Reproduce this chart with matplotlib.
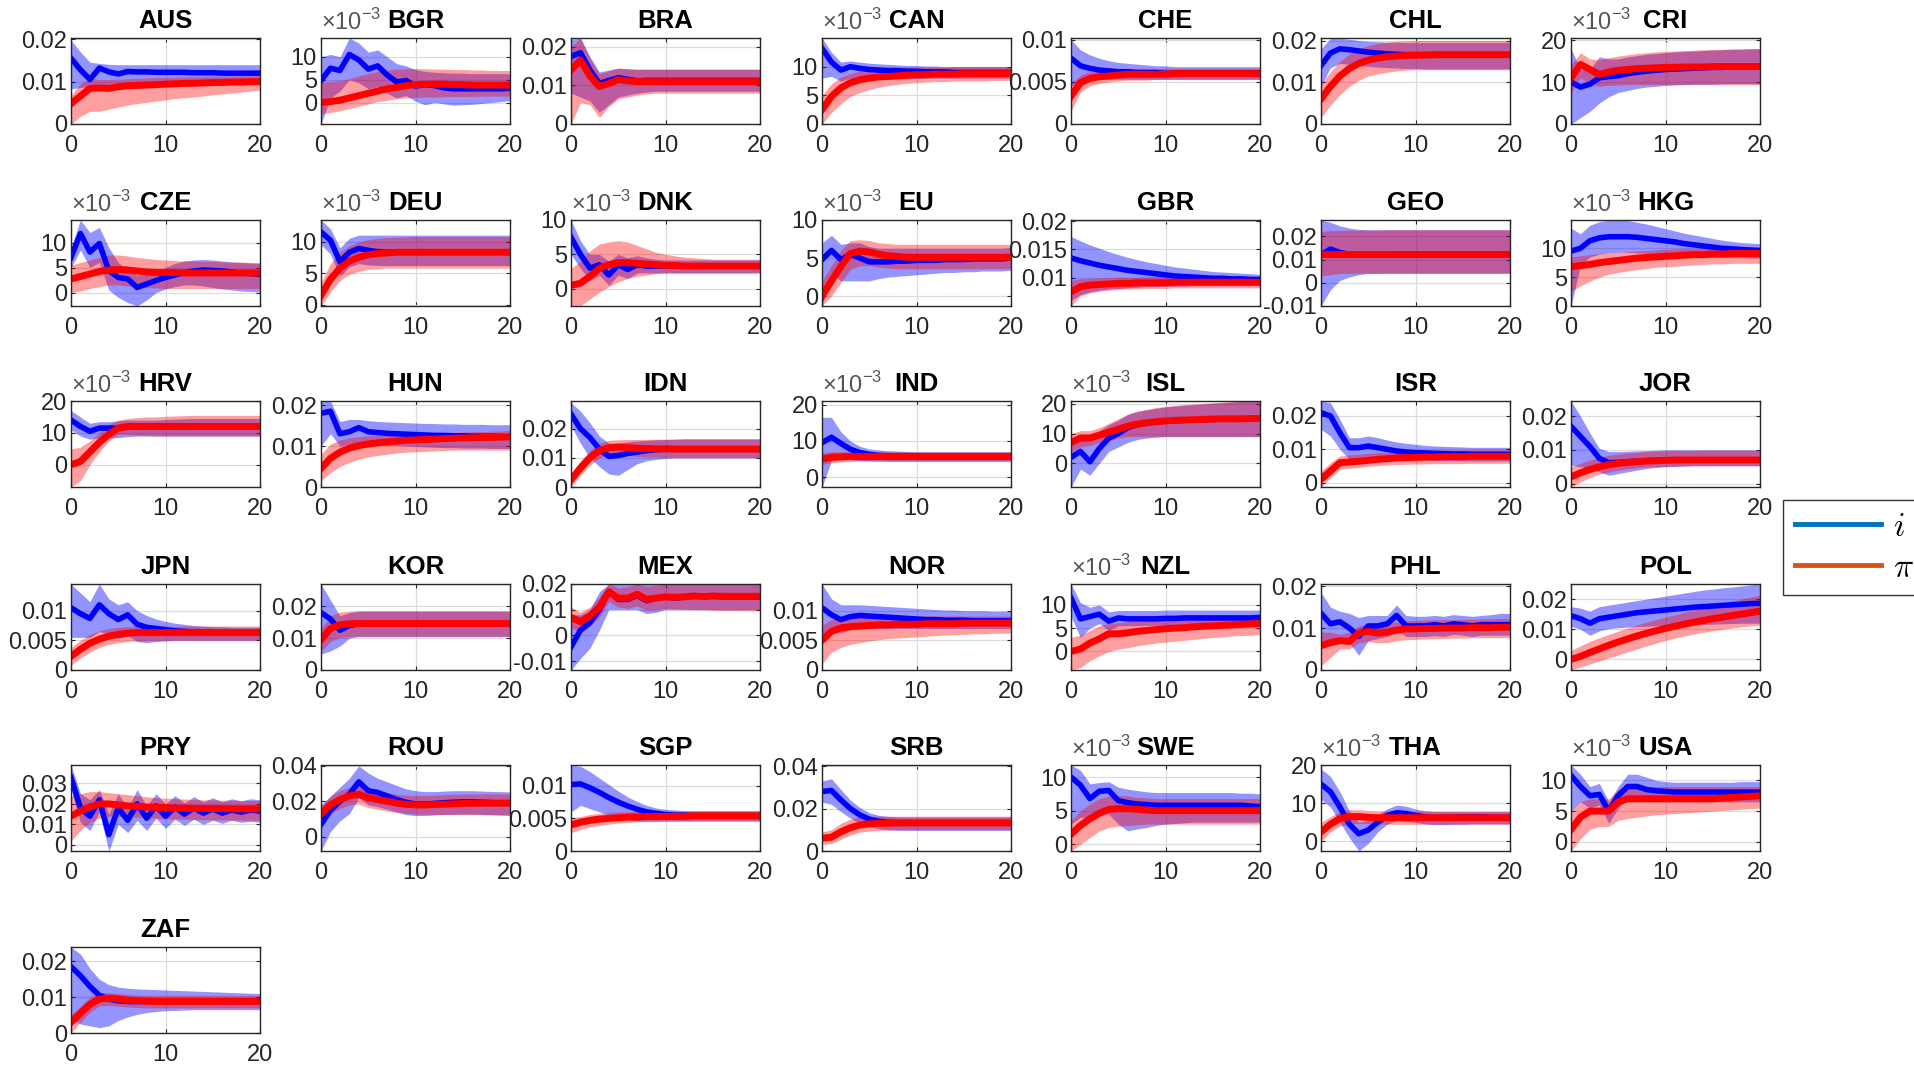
import matplotlib
matplotlib.use("Agg")
import matplotlib.pyplot as plt
from matplotlib.lines import Line2D
import numpy as np

plt.rcParams['font.family'] = ['Liberation Sans', 'DejaVu Sans']

HORIZON = list(range(21))

# Impulse responses, in units of 1e-3: i = policy rate, pi = inflation,
# with lower/upper credible bands.
AUS_i = [15.5, 12.8, 10.5, 13.2, 12.3, 11.8, 12.4, 12.3, 12.3, 12.2, 12.2, 12.2, 12.2, 12.1, 12.1, 12.1, 12.0, 12.0, 12.0, 12.0, 12.0]
AUS_i_lo = [8.3, 8.6, 8.8, 9.0, 9.0, 9.1, 9.2, 9.2, 9.3, 9.3, 9.3, 9.4, 9.4, 9.4, 9.4, 9.5, 9.5, 9.5, 9.5, 9.5, 9.5]
AUS_i_hi = [19.8, 17.0, 14.6, 14.3, 14.1, 14.0, 14.0, 14.0, 14.0, 14.0, 14.0, 14.0, 14.0, 14.0, 14.0, 14.0, 14.0, 14.0, 14.0, 14.0, 14.0]
AUS_pi = [4.8, 6.6, 8.4, 8.5, 8.4, 8.8, 9.0, 9.1, 9.2, 9.3, 9.4, 9.5, 9.6, 9.6, 9.7, 9.8, 9.8, 9.9, 9.9, 10.0, 10.0]
AUS_pi_lo = [0.0, 1.8, 3.0, 3.0, 3.5, 4.0, 4.5, 4.8, 5.1, 5.4, 5.7, 6.0, 6.2, 6.4, 6.6, 6.9, 7.1, 7.3, 7.5, 7.8, 8.0]
AUS_pi_hi = [6.8, 9.5, 10.8, 10.5, 10.5, 10.6, 10.7, 10.8, 10.9, 11.0, 11.0, 11.1, 11.1, 11.2, 11.2, 11.3, 11.3, 11.3, 11.4, 11.4, 11.4]

BGR_i = [4.8, 7.5, 7.0, 10.5, 9.3, 7.3, 8.0, 6.0, 4.5, 4.8, 3.6, 3.9, 3.7, 3.2, 3.0, 3.0, 3.0, 3.0, 3.0, 3.0, 3.1]
BGR_i_lo = [-4.7, 1.0, 2.5, 5.0, 4.3, 3.0, 3.5, 2.0, 1.0, 1.5, 0.3, -0.5, 0.0, -0.3, -0.6, -0.5, -0.4, -0.2, 0.0, 0.2, 0.4]
BGR_i_hi = [10.0, 10.5, 10.0, 14.1, 13.0, 11.0, 11.5, 10.0, 8.5, 8.0, 7.2, 6.8, 6.6, 6.5, 6.4, 6.4, 6.3, 6.3, 6.3, 6.3, 6.3]
BGR_pi = [0.0, 0.2, 0.5, 1.0, 1.5, 2.0, 2.5, 3.0, 3.3, 3.7, 3.9, 4.0, 4.0, 4.0, 3.9, 3.9, 3.8, 3.8, 3.8, 3.8, 3.8]
BGR_pi_lo = [-2.5, -2.2, -1.8, -1.3, -0.8, -0.3, 0.2, 0.5, 0.8, 1.0, 1.1, 1.2, 1.2, 1.3, 1.3, 1.3, 1.3, 1.4, 1.4, 1.4, 1.4]
BGR_pi_hi = [4.5, 4.6, 4.8, 5.2, 5.8, 6.3, 6.8, 7.1, 7.3, 7.4, 7.4, 7.4, 7.3, 7.3, 7.2, 7.2, 7.1, 7.1, 7.0, 7.0, 7.0]

BRA_i = [17.5, 18.5, 14.0, 10.5, 11.3, 12.0, 11.6, 11.2, 11.3, 11.3, 11.3, 11.3, 11.3, 11.3, 11.3, 11.3, 11.3, 11.3, 11.3, 11.3, 11.3]
BRA_i_lo = [8.0, 7.0, 6.0, 3.0, 5.0, 7.0, 7.5, 8.0, 8.3, 8.5, 8.5, 8.5, 8.5, 8.5, 8.5, 8.5, 8.5, 8.5, 8.5, 8.5, 8.5]
BRA_i_hi = [22.0, 22.3, 17.5, 13.5, 14.0, 14.5, 14.3, 14.2, 14.2, 14.2, 14.2, 14.2, 14.2, 14.2, 14.2, 14.2, 14.2, 14.2, 14.2, 14.2, 14.2]
BRA_pi = [14.0, 16.5, 12.5, 9.7, 10.5, 11.5, 11.2, 11.0, 11.0, 11.0, 11.0, 11.0, 11.0, 11.0, 11.0, 11.0, 11.0, 11.0, 11.0, 11.0, 11.0]
BRA_pi_lo = [0.0, 5.5, 5.0, 1.7, 4.5, 6.5, 7.0, 7.5, 7.8, 8.0, 8.0, 8.0, 8.0, 8.0, 8.0, 8.0, 8.0, 8.0, 8.0, 8.0, 8.0]
BRA_pi_hi = [20.0, 22.3, 17.0, 13.0, 13.8, 14.5, 14.3, 14.2, 14.2, 14.2, 14.2, 14.2, 14.2, 14.2, 14.2, 14.2, 14.2, 14.2, 14.2, 14.2, 14.2]

CAN_i = [13.2, 10.8, 9.4, 10.0, 9.7, 9.5, 9.4, 9.3, 9.3, 9.2, 9.2, 9.1, 9.1, 9.1, 9.0, 9.0, 9.0, 9.0, 9.0, 9.0, 9.0]
CAN_i_lo = [8.0, 8.3, 7.5, 8.0, 7.8, 7.8, 7.8, 7.8, 7.9, 7.9, 7.9, 8.0, 8.0, 8.0, 8.0, 8.0, 8.0, 8.0, 8.0, 8.0, 8.0]
CAN_i_hi = [15.0, 12.5, 10.8, 11.0, 10.8, 10.6, 10.5, 10.4, 10.3, 10.2, 10.2, 10.1, 10.1, 10.0, 10.0, 10.0, 10.0, 10.0, 10.0, 10.0, 10.0]
CAN_pi = [2.5, 4.8, 6.3, 7.2, 7.7, 8.0, 8.2, 8.3, 8.4, 8.5, 8.6, 8.6, 8.7, 8.7, 8.7, 8.8, 8.8, 8.8, 8.8, 8.8, 8.8]
CAN_pi_lo = [0.0, 2.0, 3.5, 4.8, 5.5, 6.0, 6.4, 6.7, 6.9, 7.1, 7.2, 7.3, 7.4, 7.4, 7.5, 7.5, 7.5, 7.5, 7.6, 7.6, 7.6]
CAN_pi_hi = [5.0, 7.0, 8.2, 8.8, 9.2, 9.4, 9.5, 9.6, 9.7, 9.8, 9.8, 9.9, 9.9, 9.9, 10.0, 10.0, 10.0, 10.0, 10.0, 10.0, 10.0]

CHE_i = [7.8, 6.9, 6.6, 6.4, 6.3, 6.2, 6.2, 6.1, 6.1, 6.1, 6.0, 6.0, 6.0, 6.0, 6.0, 6.0, 6.0, 6.0, 6.0, 6.0, 6.0]
CHE_i_lo = [4.5, 5.0, 5.2, 5.3, 5.3, 5.3, 5.3, 5.3, 5.3, 5.3, 5.3, 5.3, 5.3, 5.3, 5.3, 5.3, 5.3, 5.3, 5.3, 5.3, 5.3]
CHE_i_hi = [10.0, 8.8, 8.2, 7.8, 7.5, 7.3, 7.2, 7.1, 7.0, 6.9, 6.9, 6.8, 6.8, 6.8, 6.8, 6.8, 6.8, 6.8, 6.8, 6.8, 6.8]
CHE_pi = [3.3, 4.9, 5.4, 5.6, 5.7, 5.8, 5.9, 5.9, 5.9, 5.9, 5.9, 6.0, 6.0, 6.0, 6.0, 6.0, 6.0, 6.0, 6.0, 6.0, 6.0]
CHE_pi_lo = [1.5, 3.8, 4.5, 4.8, 5.0, 5.1, 5.2, 5.2, 5.2, 5.3, 5.3, 5.3, 5.3, 5.3, 5.3, 5.3, 5.3, 5.3, 5.3, 5.3, 5.3]
CHE_pi_hi = [4.8, 5.8, 6.2, 6.4, 6.5, 6.5, 6.6, 6.6, 6.6, 6.6, 6.6, 6.6, 6.6, 6.6, 6.6, 6.6, 6.6, 6.6, 6.6, 6.6, 6.6]

CHL_i = [14.0, 17.0, 18.0, 17.8, 17.5, 17.2, 17.0, 16.8, 16.7, 16.6, 16.6, 16.6, 16.6, 16.6, 16.6, 16.6, 16.6, 16.6, 16.6, 16.6, 16.6]
CHL_i_lo = [9.0, 13.5, 14.5, 14.3, 14.0, 13.8, 13.6, 13.5, 13.4, 13.3, 13.3, 13.2, 13.2, 13.2, 13.2, 13.2, 13.2, 13.2, 13.2, 13.2, 13.2]
CHL_i_hi = [18.0, 20.5, 20.5, 20.3, 20.0, 19.8, 19.7, 19.6, 19.6, 19.5, 19.5, 19.5, 19.5, 19.5, 19.5, 19.5, 19.5, 19.5, 19.5, 19.5, 19.5]
CHL_pi = [6.0, 9.0, 11.5, 13.3, 14.5, 15.3, 15.8, 16.1, 16.3, 16.4, 16.5, 16.5, 16.6, 16.6, 16.6, 16.6, 16.6, 16.6, 16.6, 16.6, 16.6]
CHL_pi_lo = [1.5, 4.5, 7.0, 9.0, 10.5, 11.5, 12.0, 12.4, 12.7, 12.9, 13.0, 13.0, 13.0, 13.0, 13.0, 13.0, 13.0, 13.0, 13.0, 13.0, 13.0]
CHL_pi_hi = [9.5, 12.5, 15.0, 16.8, 18.0, 18.8, 19.3, 19.6, 19.8, 19.9, 20.0, 20.0, 20.0, 20.0, 20.0, 20.0, 20.0, 20.0, 20.0, 20.0, 20.0]

CRI_i = [10.0, 8.8, 9.5, 11.0, 11.3, 11.5, 12.0, 12.3, 12.6, 12.8, 13.0, 13.1, 13.2, 13.3, 13.4, 13.5, 13.5, 13.6, 13.6, 13.7, 13.7]
CRI_i_lo = [0.0, 1.5, 3.0, 5.0, 6.5, 7.5, 8.0, 8.5, 8.8, 9.0, 9.2, 9.3, 9.4, 9.5, 9.5, 9.5, 9.6, 9.6, 9.6, 9.6, 9.6]
CRI_i_hi = [18.0, 13.0, 13.0, 16.0, 15.5, 15.5, 16.0, 16.3, 16.6, 16.8, 17.0, 17.2, 17.3, 17.4, 17.5, 17.6, 17.7, 17.8, 17.8, 17.9, 17.9]
CRI_pi = [11.0, 14.2, 13.0, 11.8, 12.4, 12.8, 13.0, 13.2, 13.3, 13.4, 13.5, 13.5, 13.6, 13.6, 13.6, 13.7, 13.7, 13.7, 13.7, 13.7, 13.7]
CRI_pi_lo = [7.5, 11.0, 9.5, 9.0, 9.2, 9.3, 9.4, 9.4, 9.4, 9.4, 9.4, 9.4, 9.4, 9.4, 9.4, 9.4, 9.4, 9.4, 9.4, 9.4, 9.4]
CRI_pi_hi = [14.0, 17.0, 15.5, 15.3, 15.8, 16.2, 16.5, 16.8, 17.0, 17.2, 17.3, 17.4, 17.5, 17.6, 17.7, 17.8, 17.8, 17.9, 17.9, 18.0, 18.0]

CZE_i = [7.0, 11.8, 8.1, 9.8, 4.4, 3.0, 2.7, 1.0, 1.7, 2.4, 3.0, 3.5, 4.0, 4.3, 4.5, 4.4, 4.3, 4.1, 3.9, 3.8, 3.6]
CZE_i_lo = [5.0, 8.5, 5.0, 6.0, 0.5, -1.0, -2.0, -2.7, -1.5, 0.0, 0.7, 1.2, 1.5, 1.5, 1.3, 1.0, 0.7, 0.5, 0.3, 0.2, 0.1]
CZE_i_hi = [9.0, 14.5, 12.0, 13.0, 9.0, 6.0, 4.5, 3.5, 3.8, 4.3, 5.0, 5.8, 6.3, 6.5, 6.6, 6.5, 6.3, 6.1, 6.0, 5.9, 5.8]
CZE_pi = [2.7, 3.2, 3.7, 4.2, 4.5, 4.6, 4.5, 4.3, 4.1, 4.0, 4.0, 4.0, 3.9, 3.9, 3.9, 3.9, 3.9, 3.9, 3.9, 3.9, 3.9]
CZE_pi_lo = [0.0, 0.3, 0.8, 1.2, 1.5, 1.5, 1.3, 1.1, 1.0, 0.9, 0.8, 0.8, 0.8, 0.8, 0.8, 0.8, 0.8, 0.8, 0.8, 0.8, 0.8]
CZE_pi_hi = [5.5, 6.0, 6.5, 7.0, 7.5, 7.5, 7.3, 7.0, 6.8, 6.6, 6.5, 6.4, 6.3, 6.3, 6.2, 6.2, 6.1, 6.1, 6.1, 6.0, 6.0]

DEU_i = [11.5, 10.2, 6.8, 8.3, 8.9, 8.6, 8.4, 8.3, 8.3, 8.3, 8.3, 8.3, 8.3, 8.3, 8.3, 8.3, 8.3, 8.3, 8.3, 8.3, 8.3]
DEU_i_lo = [9.5, 8.0, 4.5, 6.0, 6.5, 6.3, 6.2, 6.2, 6.2, 6.2, 6.2, 6.2, 6.2, 6.2, 6.2, 6.2, 6.2, 6.2, 6.2, 6.2, 6.2]
DEU_i_hi = [13.4, 12.0, 9.0, 10.5, 11.0, 11.0, 11.0, 11.0, 11.0, 11.0, 11.0, 11.0, 11.0, 11.0, 11.0, 11.0, 11.0, 11.0, 11.0, 11.0, 11.0]
DEU_pi = [1.5, 4.0, 5.8, 6.9, 7.5, 7.9, 8.1, 8.2, 8.3, 8.3, 8.3, 8.3, 8.3, 8.3, 8.3, 8.3, 8.3, 8.3, 8.3, 8.3, 8.3]
DEU_pi_lo = [-0.2, 2.0, 3.8, 4.8, 5.3, 5.6, 5.7, 5.8, 5.8, 5.8, 5.8, 5.8, 5.8, 5.8, 5.8, 5.8, 5.8, 5.8, 5.8, 5.8, 5.8]
DEU_pi_hi = [3.5, 6.5, 8.3, 9.3, 9.9, 10.3, 10.5, 10.6, 10.7, 10.7, 10.8, 10.8, 10.8, 10.8, 10.8, 10.8, 10.8, 10.8, 10.8, 10.8, 10.8]

DNK_i = [7.5, 5.0, 3.0, 3.5, 2.0, 3.5, 2.8, 3.5, 3.3, 3.3, 3.3, 3.3, 3.3, 3.3, 3.3, 3.3, 3.3, 3.3, 3.3, 3.3, 3.3]
DNK_i_lo = [5.0, 3.0, 1.2, 2.0, 0.5, 2.0, 1.5, 2.3, 2.3, 2.3, 2.3, 2.3, 2.3, 2.3, 2.3, 2.3, 2.3, 2.3, 2.3, 2.3, 2.3]
DNK_i_hi = [10.0, 7.0, 5.0, 5.0, 4.0, 5.0, 4.5, 4.8, 4.5, 4.3, 4.2, 4.2, 4.2, 4.2, 4.2, 4.2, 4.2, 4.2, 4.2, 4.2, 4.2]
DNK_pi = [0.5, 0.8, 1.8, 3.0, 3.5, 3.8, 3.8, 3.7, 3.6, 3.5, 3.4, 3.4, 3.3, 3.3, 3.3, 3.3, 3.3, 3.3, 3.3, 3.3, 3.3]
DNK_pi_lo = [-2.5, -2.5, -1.5, -0.5, 0.3, 1.0, 1.5, 1.8, 2.0, 2.2, 2.3, 2.3, 2.3, 2.3, 2.3, 2.3, 2.3, 2.3, 2.3, 2.3, 2.3]
DNK_pi_hi = [3.0, 4.0, 5.5, 6.5, 6.8, 7.0, 6.8, 6.3, 5.8, 5.3, 5.0, 4.8, 4.6, 4.5, 4.4, 4.3, 4.3, 4.3, 4.3, 4.3, 4.3]

EU_i = [4.8, 6.0, 4.8, 5.5, 5.0, 4.5, 4.5, 4.5, 4.6, 4.6, 4.7, 4.7, 4.7, 4.8, 4.8, 4.8, 4.9, 4.9, 4.9, 4.9, 5.0]
EU_i_lo = [-1.3, 3.0, 2.0, 2.0, 2.0, 2.0, 2.3, 2.5, 2.6, 2.7, 2.8, 2.9, 3.0, 3.1, 3.1, 3.2, 3.2, 3.3, 3.3, 3.3, 3.4]
EU_i_hi = [7.0, 8.0, 6.8, 7.0, 7.0, 6.5, 6.3, 6.3, 6.3, 6.3, 6.3, 6.3, 6.3, 6.3, 6.3, 6.3, 6.3, 6.3, 6.3, 6.3, 6.4]
EU_pi = [0.0, 2.0, 3.9, 5.6, 5.9, 5.8, 5.5, 5.3, 5.2, 5.1, 5.1, 5.1, 5.1, 5.1, 5.1, 5.1, 5.1, 5.1, 5.1, 5.1, 5.1]
EU_pi_lo = [-1.3, 0.0, 1.8, 3.5, 4.0, 4.0, 3.8, 3.7, 3.6, 3.6, 3.6, 3.6, 3.6, 3.6, 3.6, 3.6, 3.6, 3.6, 3.6, 3.6, 3.6]
EU_pi_hi = [2.0, 4.0, 6.0, 7.3, 7.4, 7.3, 7.0, 6.9, 6.8, 6.8, 6.8, 6.8, 6.8, 6.8, 6.8, 6.8, 6.8, 6.8, 6.8, 6.8, 6.8]

GBR_i = [13.5, 13.0, 12.6, 12.2, 11.9, 11.6, 11.3, 11.1, 10.9, 10.7, 10.5, 10.3, 10.2, 10.1, 10.0, 9.9, 9.9, 9.8, 9.8, 9.7, 9.7]
GBR_i_lo = [6.0, 7.0, 7.5, 7.8, 8.0, 8.1, 8.2, 8.3, 8.4, 8.4, 8.5, 8.5, 8.5, 8.6, 8.6, 8.6, 8.6, 8.6, 8.6, 8.6, 8.6]
GBR_i_hi = [17.3, 16.5, 15.8, 15.2, 14.6, 14.1, 13.6, 13.2, 12.8, 12.5, 12.2, 11.9, 11.7, 11.5, 11.3, 11.1, 11.0, 10.9, 10.8, 10.7, 10.6]
GBR_pi = [7.5, 8.4, 8.7, 8.8, 8.9, 9.0, 9.0, 9.1, 9.1, 9.1, 9.1, 9.2, 9.2, 9.2, 9.2, 9.2, 9.2, 9.2, 9.2, 9.2, 9.2]
GBR_pi_lo = [5.0, 6.8, 7.3, 7.6, 7.8, 7.9, 8.0, 8.0, 8.1, 8.1, 8.1, 8.2, 8.2, 8.2, 8.2, 8.2, 8.2, 8.2, 8.2, 8.2, 8.2]
GBR_pi_hi = [9.5, 9.8, 9.9, 10.0, 10.0, 10.1, 10.1, 10.1, 10.2, 10.2, 10.2, 10.2, 10.2, 10.2, 10.2, 10.2, 10.2, 10.2, 10.2, 10.2, 10.2]

GEO_i = [12.0, 14.5, 13.0, 12.3, 12.0, 12.0, 12.1, 12.1, 12.2, 12.2, 12.2, 12.2, 12.2, 12.2, 12.2, 12.2, 12.2, 12.2, 12.2, 12.2, 12.2]
GEO_i_lo = [-10.0, -3.0, 1.0, 2.5, 3.5, 4.0, 4.0, 4.0, 4.0, 4.0, 4.0, 4.0, 4.0, 4.0, 4.0, 4.0, 4.0, 4.0, 4.0, 4.0, 4.0]
GEO_i_hi = [27.0, 26.0, 24.5, 23.5, 23.0, 22.8, 22.8, 22.8, 22.8, 22.8, 22.8, 22.8, 22.8, 22.8, 22.8, 22.8, 22.8, 22.8, 22.8, 22.8, 22.8]
GEO_pi = [12.5, 12.5, 12.5, 12.5, 12.5, 12.5, 12.5, 12.5, 12.5, 12.5, 12.5, 12.5, 12.5, 12.5, 12.5, 12.5, 12.5, 12.5, 12.5, 12.5, 12.5]
GEO_pi_lo = [3.0, 3.5, 4.0, 4.0, 4.1, 4.1, 4.1, 4.2, 4.2, 4.2, 4.2, 4.2, 4.2, 4.2, 4.2, 4.2, 4.2, 4.2, 4.2, 4.2, 4.2]
GEO_pi_hi = [22.0, 22.5, 22.5, 22.6, 22.6, 22.7, 22.7, 22.8, 22.8, 22.8, 22.8, 22.8, 22.8, 22.8, 22.8, 22.8, 22.8, 22.8, 22.8, 22.8, 22.8]

HKG_i = [9.5, 10.0, 11.3, 11.8, 12.0, 12.0, 12.0, 11.9, 11.7, 11.5, 11.3, 11.1, 10.8, 10.6, 10.4, 10.2, 10.0, 9.9, 9.8, 9.7, 9.6]
HKG_i_lo = [0.0, 7.0, 8.5, 9.0, 9.2, 9.3, 9.3, 9.2, 9.1, 9.0, 8.9, 8.8, 8.7, 8.6, 8.5, 8.5, 8.4, 8.4, 8.4, 8.3, 8.3]
HKG_i_hi = [13.5, 12.5, 14.0, 14.6, 14.9, 14.9, 14.8, 14.5, 14.2, 13.8, 13.4, 13.0, 12.6, 12.3, 12.0, 11.7, 11.4, 11.2, 11.0, 10.9, 10.8]
HKG_pi = [6.8, 7.0, 7.2, 7.5, 7.7, 7.9, 8.1, 8.3, 8.4, 8.5, 8.6, 8.7, 8.8, 8.9, 8.9, 9.0, 9.0, 9.1, 9.1, 9.1, 9.1]
HKG_pi_lo = [2.5, 3.5, 4.3, 5.0, 5.5, 5.8, 6.1, 6.3, 6.5, 6.7, 6.8, 6.9, 7.0, 7.1, 7.2, 7.3, 7.3, 7.4, 7.4, 7.4, 7.4]
HKG_pi_hi = [8.5, 8.7, 8.9, 9.1, 9.2, 9.3, 9.4, 9.5, 9.6, 9.7, 9.8, 9.9, 10.0, 10.0, 10.1, 10.1, 10.2, 10.2, 10.2, 10.2, 10.2]

HRV_i = [14.0, 12.0, 10.5, 11.5, 11.5, 11.5, 11.8, 12.0, 12.0, 12.0, 12.0, 12.0, 12.0, 12.0, 12.0, 12.0, 12.0, 12.0, 12.0, 12.0, 12.0]
HRV_i_lo = [11.0, 9.0, 8.0, 8.5, 8.5, 8.5, 8.8, 9.0, 9.0, 9.0, 9.0, 9.0, 9.0, 9.0, 9.0, 9.0, 9.0, 9.0, 9.0, 9.0, 9.0]
HRV_i_hi = [17.0, 15.0, 13.0, 13.5, 13.5, 13.8, 14.0, 14.0, 14.0, 14.0, 14.2, 14.3, 14.4, 14.5, 14.5, 14.5, 14.5, 14.5, 14.5, 14.5, 14.5]
HRV_pi = [0.0, 1.0, 4.0, 7.0, 9.5, 11.5, 12.0, 12.0, 12.0, 12.0, 12.0, 12.0, 12.0, 12.0, 12.0, 12.0, 12.0, 12.0, 12.0, 12.0, 12.0]
HRV_pi_lo = [-7.0, -5.0, 0.0, 4.0, 7.5, 9.5, 9.5, 9.3, 9.2, 9.0, 9.0, 9.0, 9.0, 9.0, 9.0, 9.0, 9.0, 9.0, 9.0, 9.0, 9.0]
HRV_pi_hi = [5.0, 5.5, 7.5, 10.0, 12.5, 14.0, 14.5, 14.8, 15.0, 15.0, 15.2, 15.3, 15.4, 15.5, 15.5, 15.5, 15.5, 15.5, 15.5, 15.5, 15.5]

HUN_i = [18.0, 18.5, 13.0, 13.5, 14.5, 13.5, 13.3, 13.1, 13.0, 12.9, 12.8, 12.7, 12.6, 12.6, 12.5, 12.5, 12.4, 12.4, 12.4, 12.3, 12.3]
HUN_i_lo = [10.0, 13.0, 10.0, 10.5, 10.8, 10.5, 10.3, 10.2, 10.1, 10.0, 9.9, 9.8, 9.7, 9.6, 9.6, 9.5, 9.5, 9.5, 9.4, 9.4, 9.4]
HUN_i_hi = [21.0, 21.0, 16.0, 16.5, 16.5, 16.2, 16.0, 15.9, 15.8, 15.7, 15.6, 15.5, 15.5, 15.4, 15.4, 15.3, 15.3, 15.3, 15.2, 15.2, 15.2]
HUN_pi = [4.5, 7.0, 8.5, 9.5, 10.1, 10.5, 10.8, 11.0, 11.2, 11.4, 11.5, 11.6, 11.7, 11.8, 11.9, 12.0, 12.0, 12.1, 12.1, 12.2, 12.2]
HUN_pi_lo = [1.5, 3.5, 5.0, 6.0, 6.8, 7.3, 7.7, 8.0, 8.3, 8.5, 8.6, 8.7, 8.8, 8.9, 9.0, 9.0, 9.0, 9.0, 9.0, 9.0, 9.0]
HUN_pi_hi = [8.0, 10.5, 11.5, 12.0, 12.3, 12.5, 12.6, 12.7, 12.8, 12.9, 13.0, 13.0, 13.1, 13.2, 13.3, 13.4, 13.5, 13.5, 13.6, 13.7, 13.8]

IDN_i = [25.0, 20.0, 17.0, 13.0, 10.5, 10.8, 11.5, 12.0, 12.5, 12.8, 13.0, 13.0, 13.0, 13.0, 13.0, 13.0, 13.0, 13.0, 13.0, 13.0, 13.0]
IDN_i_lo = [21.0, 15.0, 10.0, 7.0, 4.5, 4.0, 6.0, 8.0, 9.0, 9.5, 9.8, 10.0, 10.0, 10.0, 10.0, 10.0, 10.0, 10.0, 10.0, 10.0, 10.0]
IDN_i_hi = [29.0, 26.0, 22.0, 17.5, 15.0, 15.0, 15.5, 15.8, 16.0, 16.2, 16.3, 16.4, 16.5, 16.5, 16.5, 16.5, 16.5, 16.5, 16.5, 16.5, 16.5]
IDN_pi = [2.5, 6.5, 10.0, 12.5, 13.5, 13.7, 13.5, 13.3, 13.2, 13.1, 13.1, 13.0, 13.0, 13.0, 13.0, 13.0, 13.0, 13.0, 13.0, 13.0, 13.0]
IDN_pi_lo = [0.0, 4.0, 7.5, 10.0, 11.0, 11.0, 10.8, 10.5, 10.3, 10.2, 10.1, 10.0, 10.0, 10.0, 10.0, 10.0, 10.0, 10.0, 10.0, 10.0, 10.0]
IDN_pi_hi = [4.5, 9.0, 12.5, 15.0, 16.0, 16.2, 16.3, 16.3, 16.3, 16.4, 16.4, 16.4, 16.5, 16.5, 16.5, 16.5, 16.5, 16.5, 16.5, 16.5, 16.5]

IND_i = [9.5, 11.0, 9.3, 7.7, 6.8, 6.3, 6.0, 5.9, 5.8, 5.8, 5.7, 5.7, 5.7, 5.7, 5.7, 5.7, 5.7, 5.7, 5.7, 5.7, 5.7]
IND_i_lo = [-2.7, 4.5, 5.0, 4.8, 4.6, 4.5, 4.5, 4.4, 4.4, 4.4, 4.4, 4.4, 4.4, 4.4, 4.4, 4.4, 4.4, 4.4, 4.4, 4.4, 4.4]
IND_i_hi = [16.5, 16.5, 12.5, 10.0, 8.5, 7.8, 7.5, 7.3, 7.2, 7.1, 7.0, 7.0, 7.0, 7.0, 7.0, 7.0, 7.0, 7.0, 7.0, 7.0, 7.0]
IND_pi = [5.0, 5.5, 5.6, 5.7, 5.7, 5.7, 5.7, 5.7, 5.7, 5.7, 5.7, 5.7, 5.7, 5.7, 5.7, 5.7, 5.7, 5.7, 5.7, 5.7, 5.7]
IND_pi_lo = [3.5, 4.0, 4.2, 4.3, 4.4, 4.4, 4.4, 4.4, 4.4, 4.4, 4.4, 4.4, 4.4, 4.4, 4.4, 4.4, 4.4, 4.4, 4.4, 4.4, 4.4]
IND_pi_hi = [6.8, 7.0, 7.0, 7.0, 7.0, 7.0, 7.0, 7.0, 7.0, 7.0, 7.0, 7.0, 7.0, 7.0, 7.0, 7.0, 7.0, 7.0, 7.0, 7.0, 7.0]

ISL_i = [2.0, 4.0, 0.5, 5.0, 8.5, 10.0, 12.0, 13.0, 13.5, 14.0, 14.2, 14.4, 14.5, 14.6, 14.7, 14.8, 14.9, 15.0, 15.0, 15.0, 15.0]
ISL_i_lo = [-8.0, -2.0, -4.0, 0.0, 4.0, 5.5, 7.0, 8.0, 8.5, 8.8, 9.0, 9.0, 9.0, 9.0, 9.0, 9.0, 9.0, 9.0, 9.0, 9.0, 9.0]
ISL_i_hi = [7.0, 10.0, 8.0, 11.0, 13.0, 14.5, 16.5, 17.5, 18.0, 18.5, 19.0, 19.3, 19.6, 19.8, 20.0, 20.2, 20.4, 20.6, 20.8, 20.9, 21.0]
ISL_pi = [7.0, 8.5, 8.5, 9.5, 10.5, 11.5, 12.5, 13.2, 13.7, 14.0, 14.3, 14.5, 14.6, 14.7, 14.8, 14.9, 15.0, 15.0, 15.0, 15.1, 15.1]
ISL_pi_lo = [4.0, 5.5, 6.0, 7.0, 7.5, 8.5, 9.0, 9.0, 9.0, 9.0, 9.0, 9.0, 9.0, 9.0, 9.0, 9.0, 9.0, 9.0, 9.0, 9.0, 9.0]
ISL_pi_hi = [10.0, 11.0, 11.0, 12.0, 13.5, 15.0, 16.5, 17.5, 18.2, 18.8, 19.2, 19.5, 19.8, 20.0, 20.2, 20.4, 20.6, 20.8, 20.9, 21.0, 21.0]

ISR_i = [21.0, 20.0, 15.0, 10.5, 10.5, 11.0, 10.5, 10.0, 9.5, 9.2, 9.0, 8.9, 8.8, 8.7, 8.6, 8.6, 8.5, 8.5, 8.5, 8.5, 8.5]
ISR_i_lo = [16.0, 14.0, 10.0, 7.0, 7.2, 7.8, 7.5, 7.3, 7.1, 7.0, 6.9, 6.8, 6.7, 6.6, 6.6, 6.5, 6.5, 6.5, 6.5, 6.5, 6.5]
ISR_i_hi = [24.5, 24.0, 19.0, 13.5, 13.5, 14.0, 13.5, 12.8, 12.2, 11.8, 11.5, 11.2, 11.0, 10.9, 10.8, 10.7, 10.6, 10.6, 10.6, 10.6, 10.6]
ISR_pi = [1.0, 3.5, 6.0, 6.2, 6.4, 6.7, 7.0, 7.2, 7.4, 7.5, 7.6, 7.7, 7.7, 7.8, 7.8, 7.8, 7.9, 7.9, 7.9, 7.9, 7.9]
ISR_pi_lo = [-1.3, 1.5, 4.0, 4.3, 4.6, 4.9, 5.1, 5.3, 5.4, 5.5, 5.6, 5.6, 5.7, 5.7, 5.7, 5.7, 5.8, 5.8, 5.8, 5.8, 5.8]
ISR_pi_hi = [3.5, 6.0, 8.0, 8.3, 8.5, 8.8, 9.0, 9.2, 9.4, 9.5, 9.6, 9.7, 9.7, 9.8, 9.8, 9.8, 9.9, 9.9, 9.9, 9.9, 9.9]

JOR_i = [17.0, 14.0, 11.0, 7.5, 6.2, 6.3, 6.5, 6.7, 6.8, 6.9, 7.0, 7.0, 7.0, 7.0, 7.0, 7.0, 7.0, 7.0, 7.0, 7.0, 7.0]
JOR_i_lo = [5.5, 5.0, 4.5, 3.5, 2.5, 3.0, 3.5, 4.0, 4.5, 4.8, 5.0, 5.1, 5.2, 5.3, 5.3, 5.3, 5.3, 5.3, 5.3, 5.3, 5.3]
JOR_i_hi = [24.5, 20.0, 15.0, 10.5, 9.5, 9.5, 9.6, 9.7, 9.8, 9.9, 10.0, 10.0, 10.0, 10.0, 10.0, 10.0, 10.0, 10.0, 10.0, 10.0, 10.0]
JOR_pi = [2.0, 3.2, 4.2, 5.0, 5.6, 6.0, 6.3, 6.5, 6.7, 6.8, 6.9, 7.0, 7.0, 7.0, 7.0, 7.0, 7.0, 7.0, 7.0, 7.0, 7.0]
JOR_pi_lo = [-1.0, 0.5, 1.8, 2.8, 3.5, 4.0, 4.4, 4.7, 4.9, 5.0, 5.1, 5.2, 5.2, 5.3, 5.3, 5.3, 5.3, 5.3, 5.3, 5.3, 5.3]
JOR_pi_hi = [5.0, 6.0, 7.0, 7.8, 8.4, 8.8, 9.1, 9.3, 9.5, 9.6, 9.7, 9.8, 9.8, 9.9, 9.9, 9.9, 9.9, 9.9, 9.9, 9.9, 9.9]

JPN_i = [10.5, 9.5, 8.7, 11.0, 9.5, 8.5, 9.3, 7.7, 7.2, 7.0, 6.8, 6.6, 6.5, 6.4, 6.3, 6.3, 6.3, 6.2, 6.2, 6.2, 6.2]
JPN_i_lo = [5.5, 5.5, 5.5, 6.5, 6.0, 5.3, 5.8, 4.8, 4.6, 4.8, 4.9, 5.0, 5.0, 5.0, 5.0, 5.0, 5.0, 5.0, 5.0, 5.0, 5.0]
JPN_i_hi = [14.5, 13.0, 11.5, 14.5, 12.0, 11.0, 11.5, 10.0, 9.2, 8.6, 8.2, 7.9, 7.7, 7.5, 7.4, 7.3, 7.3, 7.2, 7.2, 7.2, 7.2]
JPN_pi = [2.3, 3.5, 4.5, 5.2, 5.7, 6.0, 6.2, 6.3, 6.3, 6.3, 6.3, 6.3, 6.3, 6.3, 6.3, 6.3, 6.3, 6.3, 6.3, 6.3, 6.3]
JPN_pi_lo = [0.8, 2.0, 3.0, 3.8, 4.3, 4.6, 4.8, 4.9, 5.0, 5.0, 5.0, 5.0, 5.0, 5.0, 5.0, 5.0, 5.0, 5.0, 5.0, 5.0, 5.0]
JPN_pi_hi = [3.8, 5.0, 6.0, 6.6, 7.0, 7.2, 7.3, 7.4, 7.4, 7.4, 7.4, 7.4, 7.4, 7.4, 7.4, 7.4, 7.4, 7.4, 7.4, 7.4, 7.4]

KOR_i = [18.0, 16.0, 12.5, 14.0, 14.5, 14.5, 14.5, 14.5, 14.5, 14.5, 14.5, 14.5, 14.5, 14.5, 14.5, 14.5, 14.5, 14.5, 14.5, 14.5, 14.5]
KOR_i_lo = [5.0, 6.0, 7.5, 10.0, 10.5, 10.5, 10.5, 10.5, 10.5, 10.5, 10.5, 10.5, 10.5, 10.5, 10.5, 10.5, 10.5, 10.5, 10.5, 10.5, 10.5]
KOR_i_hi = [27.0, 22.0, 17.0, 18.0, 18.5, 18.5, 18.5, 18.5, 18.5, 18.5, 18.5, 18.5, 18.5, 18.5, 18.5, 18.5, 18.5, 18.5, 18.5, 18.5, 18.5]
KOR_pi = [9.5, 13.0, 14.2, 14.5, 14.6, 14.6, 14.6, 14.6, 14.6, 14.6, 14.6, 14.6, 14.6, 14.6, 14.6, 14.6, 14.6, 14.6, 14.6, 14.6, 14.6]
KOR_pi_lo = [6.0, 9.0, 10.2, 10.5, 10.6, 10.6, 10.6, 10.6, 10.6, 10.6, 10.6, 10.6, 10.6, 10.6, 10.6, 10.6, 10.6, 10.6, 10.6, 10.6, 10.6]
KOR_pi_hi = [13.0, 17.0, 18.2, 18.5, 18.6, 18.6, 18.6, 18.6, 18.6, 18.6, 18.6, 18.6, 18.6, 18.6, 18.6, 18.6, 18.6, 18.6, 18.6, 18.6, 18.6]

MEX_i = [-4.5, 2.0, 5.0, 10.0, 17.0, 14.0, 14.0, 15.5, 13.5, 14.5, 15.0, 14.5, 15.0, 15.5, 15.0, 15.5, 15.0, 15.0, 15.0, 15.0, 15.0]
MEX_i_lo = [-13.5, -9.0, -5.0, 2.0, 10.0, 10.0, 10.0, 10.0, 8.5, 9.0, 10.0, 10.0, 10.0, 10.0, 10.0, 10.0, 10.0, 10.0, 10.0, 10.0, 10.0]
MEX_i_hi = [8.0, 8.0, 10.0, 17.0, 20.0, 20.0, 20.0, 20.0, 20.0, 20.0, 20.0, 20.0, 20.0, 20.0, 20.0, 20.0, 20.0, 20.0, 20.0, 20.0, 20.0]
MEX_pi = [7.0, 5.3, 7.5, 11.0, 17.0, 14.5, 14.5, 16.0, 14.0, 14.5, 15.0, 14.8, 15.0, 15.3, 15.1, 15.3, 15.2, 15.2, 15.2, 15.2, 15.2]
MEX_pi_lo = [3.0, 1.0, 3.5, 7.0, 13.0, 11.0, 10.5, 11.5, 9.8, 10.0, 10.5, 10.3, 10.2, 10.0, 10.0, 9.8, 9.7, 9.7, 9.6, 9.6, 9.6]
MEX_pi_hi = [11.0, 9.0, 11.0, 15.0, 20.0, 18.5, 19.0, 20.0, 19.0, 19.5, 20.0, 20.0, 20.0, 20.0, 20.0, 20.0, 20.0, 20.0, 20.0, 20.0, 20.0]

NOR_i = [10.5, 9.3, 8.5, 9.0, 9.2, 9.1, 9.0, 8.9, 8.8, 8.7, 8.6, 8.5, 8.5, 8.4, 8.4, 8.4, 8.3, 8.3, 8.3, 8.3, 8.3]
NOR_i_lo = [6.0, 6.5, 6.3, 6.8, 7.0, 7.0, 7.0, 7.0, 7.0, 7.0, 7.0, 7.0, 7.0, 7.0, 7.0, 7.0, 7.0, 7.0, 7.0, 7.0, 7.0]
NOR_i_hi = [14.5, 12.0, 11.0, 11.0, 11.0, 10.9, 10.8, 10.7, 10.6, 10.5, 10.4, 10.3, 10.2, 10.1, 10.1, 10.0, 10.0, 10.0, 9.9, 9.9, 9.9]
NOR_pi = [5.0, 6.5, 7.1, 7.3, 7.4, 7.5, 7.6, 7.6, 7.7, 7.7, 7.7, 7.8, 7.8, 7.8, 7.8, 7.9, 7.9, 7.9, 7.9, 7.9, 7.9]
NOR_pi_lo = [1.0, 3.0, 3.8, 4.3, 4.6, 4.9, 5.1, 5.3, 5.4, 5.5, 5.6, 5.7, 5.8, 5.9, 6.0, 6.0, 6.1, 6.1, 6.2, 6.2, 6.2]
NOR_pi_hi = [7.5, 8.5, 8.8, 8.9, 9.0, 9.0, 9.0, 9.1, 9.1, 9.1, 9.1, 9.1, 9.1, 9.1, 9.1, 9.1, 9.1, 9.1, 9.1, 9.1, 9.1]

NZL_i = [11.5, 7.0, 7.5, 8.0, 6.5, 7.2, 7.0, 7.0, 7.0, 7.0, 7.1, 7.1, 7.2, 7.2, 7.2, 7.2, 7.2, 7.2, 7.2, 7.2, 7.3]
NZL_i_lo = [7.5, 3.0, 5.0, 6.0, 4.5, 5.5, 5.5, 5.5, 5.6, 5.6, 5.7, 5.7, 5.7, 5.8, 5.8, 5.8, 5.8, 5.8, 5.8, 5.8, 5.8]
NZL_i_hi = [14.5, 10.5, 9.5, 10.0, 8.5, 8.8, 8.8, 8.8, 8.8, 8.8, 8.9, 8.9, 8.9, 8.9, 8.9, 8.9, 8.9, 8.9, 8.9, 8.9, 8.9]
NZL_pi = [0.0, 0.5, 1.8, 2.7, 3.8, 3.8, 4.0, 4.3, 4.5, 4.7, 4.9, 5.0, 5.1, 5.3, 5.4, 5.5, 5.6, 5.7, 5.8, 5.9, 6.0]
NZL_pi_lo = [-4.0, -3.5, -2.0, -1.0, 0.0, 0.5, 0.8, 1.2, 1.5, 1.8, 2.0, 2.2, 2.4, 2.6, 2.8, 3.0, 3.1, 3.3, 3.4, 3.5, 3.6]
NZL_pi_hi = [3.0, 3.5, 4.5, 5.5, 6.0, 6.2, 6.4, 6.5, 6.6, 6.7, 6.8, 6.9, 7.0, 7.1, 7.2, 7.3, 7.3, 7.4, 7.4, 7.5, 7.5]

PHL_i = [13.5, 11.0, 11.5, 10.0, 8.0, 10.5, 10.5, 11.0, 13.0, 10.5, 10.5, 10.5, 10.8, 10.5, 11.0, 10.8, 10.5, 10.8, 10.8, 10.8, 10.8]
PHL_i_lo = [6.0, 6.0, 7.0, 6.5, 3.5, 7.0, 7.5, 8.0, 9.5, 8.0, 8.0, 8.0, 8.2, 8.0, 8.5, 8.3, 8.0, 8.3, 8.3, 8.3, 8.3]
PHL_i_hi = [18.5, 15.0, 14.0, 13.5, 12.5, 13.0, 13.0, 13.0, 15.5, 13.0, 12.8, 12.8, 13.0, 12.8, 13.2, 13.0, 12.8, 13.0, 13.2, 13.5, 13.5]
PHL_pi = [5.8, 6.5, 7.0, 6.8, 8.8, 9.2, 8.8, 9.0, 9.5, 9.8, 9.8, 9.9, 9.9, 10.0, 10.0, 10.0, 10.1, 10.1, 10.1, 10.2, 10.2]
PHL_pi_lo = [1.0, 3.0, 5.0, 5.0, 6.5, 6.8, 6.5, 6.5, 7.0, 7.2, 7.3, 7.4, 7.5, 7.5, 7.6, 7.6, 7.7, 7.7, 7.7, 7.7, 7.7]
PHL_pi_hi = [9.0, 9.0, 8.5, 9.0, 10.5, 11.0, 10.5, 11.0, 11.5, 11.8, 11.8, 11.9, 12.0, 12.0, 12.0, 12.1, 12.1, 12.2, 12.2, 12.3, 12.3]

POL_i = [14.5, 13.5, 12.0, 13.5, 14.0, 14.5, 15.0, 15.5, 15.8, 16.1, 16.4, 16.7, 17.0, 17.3, 17.5, 17.7, 17.9, 18.1, 18.3, 18.5, 18.6]
POL_i_lo = [11.0, 10.0, 8.0, 9.5, 10.2, 10.5, 10.7, 10.9, 11.0, 11.1, 11.2, 11.3, 11.4, 11.5, 11.6, 11.7, 11.8, 11.9, 12.0, 12.0, 12.0]
POL_i_hi = [17.5, 17.0, 16.0, 17.5, 18.0, 18.5, 19.0, 19.5, 20.0, 20.5, 21.0, 21.5, 22.0, 22.5, 23.0, 23.3, 23.7, 24.0, 24.3, 24.7, 25.0]
POL_pi = [0.0, 1.0, 2.3, 3.5, 4.7, 5.8, 6.8, 7.8, 8.7, 9.5, 10.3, 11.0, 11.7, 12.3, 12.9, 13.5, 14.0, 14.5, 15.0, 15.5, 16.0]
POL_pi_lo = [-3.5, -2.5, -1.5, -0.5, 0.5, 1.5, 2.5, 3.5, 4.5, 5.4, 6.3, 7.1, 7.8, 8.4, 9.0, 9.5, 10.0, 10.4, 10.8, 11.1, 11.4]
POL_pi_hi = [3.0, 4.5, 6.0, 7.2, 8.3, 9.4, 10.4, 11.4, 12.3, 13.2, 14.0, 14.8, 15.6, 16.4, 17.2, 17.9, 18.6, 19.3, 20.0, 20.7, 21.3]

PRY_i = [33.0, 18.0, 14.0, 22.0, 5.0, 18.0, 12.0, 20.0, 13.0, 19.0, 14.0, 18.5, 15.0, 18.0, 15.5, 17.5, 15.5, 17.0, 16.0, 17.0, 16.5]
PRY_i_lo = [27.0, 11.0, 7.0, 16.0, -3.0, 10.0, 6.0, 12.0, 7.0, 13.0, 8.0, 12.5, 9.5, 12.5, 10.0, 12.0, 10.5, 12.0, 11.0, 11.5, 11.0]
PRY_i_hi = [39.0, 25.0, 22.0, 27.0, 15.0, 25.0, 18.0, 27.0, 19.0, 25.0, 20.0, 24.0, 20.5, 23.5, 21.0, 23.0, 21.0, 22.5, 21.5, 22.5, 22.0]
PRY_pi = [14.0, 16.5, 18.5, 20.0, 20.0, 19.5, 19.0, 18.8, 18.5, 18.3, 18.2, 18.0, 17.9, 17.8, 17.8, 17.7, 17.7, 17.6, 17.6, 17.6, 17.6]
PRY_pi_lo = [2.0, 7.0, 11.0, 13.0, 14.0, 14.0, 13.8, 13.5, 13.2, 13.0, 12.8, 12.6, 12.5, 12.4, 12.3, 12.2, 12.2, 12.1, 12.1, 12.0, 12.0]
PRY_pi_hi = [24.0, 25.0, 26.0, 26.0, 25.5, 25.0, 24.5, 24.0, 23.5, 23.0, 22.8, 22.6, 22.4, 22.2, 22.0, 22.0, 21.8, 21.8, 21.7, 21.7, 21.6]

ROU_i = [7.0, 15.0, 20.0, 24.0, 31.0, 26.0, 25.0, 23.0, 21.0, 19.5, 18.5, 18.5, 18.8, 19.2, 19.5, 19.7, 19.7, 19.5, 19.3, 19.0, 18.8]
ROU_i_lo = [-8.0, 3.0, 9.0, 13.0, 22.0, 18.0, 17.0, 15.5, 14.0, 12.5, 12.0, 12.0, 12.3, 12.5, 12.7, 12.8, 12.8, 12.6, 12.4, 12.2, 12.0]
ROU_i_hi = [18.0, 23.0, 28.0, 33.0, 40.0, 36.0, 33.0, 31.0, 29.0, 27.0, 26.0, 25.5, 25.5, 25.8, 26.0, 26.0, 26.0, 25.8, 25.6, 25.5, 25.3]
ROU_pi = [13.0, 18.0, 21.0, 23.0, 24.0, 22.0, 21.0, 20.0, 19.0, 18.3, 18.0, 18.0, 18.2, 18.4, 18.6, 18.8, 18.9, 19.0, 19.0, 19.0, 19.0]
ROU_pi_lo = [9.0, 13.0, 16.0, 18.0, 18.5, 16.5, 15.5, 14.5, 13.8, 13.2, 12.8, 12.7, 12.6, 12.6, 12.6, 12.5, 12.5, 12.5, 12.5, 12.5, 12.5]
ROU_pi_hi = [17.0, 23.0, 26.0, 28.0, 29.0, 27.0, 26.0, 25.0, 24.0, 23.5, 23.3, 23.3, 23.5, 23.7, 23.9, 24.0, 24.1, 24.2, 24.2, 24.2, 24.2]

SGP_i = [10.2, 10.3, 9.7, 9.0, 8.2, 7.5, 6.9, 6.4, 6.0, 5.8, 5.6, 5.5, 5.5, 5.4, 5.4, 5.4, 5.4, 5.4, 5.4, 5.4, 5.4]
SGP_i_lo = [6.0, 7.0, 6.5, 6.0, 5.5, 5.0, 4.8, 4.6, 4.6, 4.6, 4.6, 4.6, 4.6, 4.6, 4.6, 4.6, 4.6, 4.6, 4.6, 4.6, 4.6]
SGP_i_hi = [13.2, 13.0, 12.2, 11.2, 10.2, 9.2, 8.3, 7.6, 7.0, 6.6, 6.4, 6.3, 6.2, 6.2, 6.2, 6.2, 6.2, 6.2, 6.2, 6.2, 6.2]
SGP_pi = [4.0, 4.4, 4.7, 4.9, 5.0, 5.1, 5.2, 5.2, 5.3, 5.3, 5.3, 5.3, 5.3, 5.4, 5.4, 5.4, 5.4, 5.4, 5.4, 5.4, 5.4]
SGP_pi_lo = [2.8, 3.3, 3.7, 3.9, 4.1, 4.3, 4.4, 4.5, 4.5, 4.5, 4.6, 4.6, 4.6, 4.6, 4.6, 4.6, 4.6, 4.6, 4.6, 4.6, 4.6]
SGP_pi_hi = [5.0, 5.3, 5.6, 5.8, 5.9, 6.0, 6.0, 6.1, 6.1, 6.1, 6.1, 6.1, 6.1, 6.1, 6.1, 6.1, 6.1, 6.1, 6.1, 6.1, 6.1]

SRB_i = [28.0, 28.5, 24.0, 20.0, 17.0, 15.0, 14.0, 13.5, 13.3, 13.2, 13.2, 13.2, 13.2, 13.2, 13.2, 13.2, 13.2, 13.2, 13.2, 13.2, 13.2]
SRB_i_lo = [23.0, 22.0, 18.5, 15.5, 13.0, 11.5, 10.5, 10.0, 9.8, 9.7, 9.7, 9.7, 9.7, 9.7, 9.7, 9.7, 9.7, 9.7, 9.7, 9.7, 9.7]
SRB_i_hi = [33.0, 34.0, 29.0, 24.0, 20.5, 18.0, 16.8, 16.3, 16.0, 16.0, 16.0, 16.0, 16.0, 16.0, 16.0, 16.0, 16.0, 16.0, 16.0, 16.0, 16.0]
SRB_pi = [6.0, 6.5, 9.0, 11.0, 12.2, 12.8, 13.0, 13.1, 13.2, 13.2, 13.2, 13.2, 13.2, 13.2, 13.2, 13.2, 13.2, 13.2, 13.2, 13.2, 13.2]
SRB_pi_lo = [3.0, 3.5, 5.5, 7.5, 8.8, 9.4, 9.7, 9.8, 9.9, 10.0, 10.0, 10.0, 10.0, 10.0, 10.0, 10.0, 10.0, 10.0, 10.0, 10.0, 10.0]
SRB_pi_hi = [9.0, 10.0, 13.0, 15.0, 16.0, 16.3, 16.4, 16.4, 16.4, 16.4, 16.4, 16.4, 16.4, 16.4, 16.4, 16.4, 16.4, 16.4, 16.4, 16.4, 16.4]

SWE_i = [10.0, 8.8, 6.8, 7.9, 8.0, 6.5, 6.2, 6.0, 5.9, 5.8, 5.8, 5.8, 5.8, 5.8, 5.8, 5.8, 5.8, 5.8, 5.8, 5.7, 5.6]
SWE_i_lo = [3.0, 4.0, 4.0, 5.0, 4.5, 3.0, 2.0, 2.3, 2.5, 2.8, 3.0, 3.1, 3.2, 3.3, 3.3, 3.3, 3.3, 3.3, 3.3, 3.3, 3.3]
SWE_i_hi = [11.8, 11.0, 9.0, 9.2, 9.3, 8.5, 8.2, 8.0, 7.8, 7.7, 7.7, 7.7, 7.7, 7.7, 7.7, 7.7, 7.7, 7.7, 7.6, 7.6, 7.5]
SWE_pi = [1.5, 2.8, 3.8, 4.6, 5.2, 5.3, 5.3, 5.2, 5.1, 5.0, 5.0, 5.0, 5.0, 5.0, 5.0, 5.0, 5.0, 5.0, 5.0, 5.0, 5.0]
SWE_pi_lo = [-1.0, 0.0, 1.0, 2.0, 2.5, 2.7, 2.8, 2.9, 3.0, 3.0, 3.0, 3.0, 3.0, 3.0, 3.0, 3.0, 3.0, 3.0, 3.0, 3.0, 3.0]
SWE_pi_hi = [3.5, 5.0, 6.0, 6.8, 7.2, 7.3, 7.2, 7.0, 6.9, 6.8, 6.8, 6.8, 6.8, 6.8, 6.8, 6.8, 6.8, 6.8, 6.8, 6.8, 6.8]

THA_i = [15.0, 13.0, 9.0, 4.5, 2.0, 3.0, 5.0, 6.8, 7.5, 7.3, 6.8, 6.4, 6.2, 6.2, 6.3, 6.4, 6.4, 6.4, 6.3, 6.3, 6.3]
THA_i_lo = [11.0, 9.0, 5.0, 1.0, -2.5, -0.5, 2.5, 4.5, 5.5, 5.3, 5.0, 4.6, 4.4, 4.4, 4.5, 4.5, 4.6, 4.6, 4.6, 4.6, 4.6]
THA_i_hi = [19.0, 17.0, 13.0, 8.0, 5.0, 5.5, 7.0, 8.5, 9.5, 9.2, 8.5, 8.0, 7.8, 7.8, 7.8, 7.8, 7.8, 7.8, 7.8, 7.8, 7.8]
THA_pi = [2.5, 4.5, 6.0, 6.5, 6.5, 6.3, 6.2, 6.2, 6.2, 6.2, 6.2, 6.2, 6.2, 6.2, 6.2, 6.2, 6.2, 6.2, 6.2, 6.2, 6.2]
THA_pi_lo = [0.0, 2.5, 4.0, 4.6, 4.7, 4.6, 4.5, 4.5, 4.5, 4.5, 4.5, 4.5, 4.5, 4.5, 4.5, 4.5, 4.5, 4.5, 4.5, 4.5, 4.5]
THA_pi_hi = [5.0, 6.5, 7.8, 8.3, 8.3, 8.1, 8.0, 8.0, 8.0, 8.0, 8.0, 8.0, 8.0, 8.0, 8.0, 8.0, 8.0, 8.0, 8.0, 8.0, 8.0]

USA_i = [10.8, 9.0, 7.5, 7.7, 5.0, 7.5, 9.0, 9.0, 8.5, 8.3, 8.2, 8.1, 8.1, 8.1, 8.1, 8.1, 8.1, 8.1, 8.1, 8.1, 8.1]
USA_i_lo = [5.0, 6.5, 5.5, 6.0, 3.0, 5.5, 7.0, 7.0, 6.5, 6.5, 6.5, 6.5, 6.5, 6.5, 6.5, 6.5, 6.5, 6.5, 6.5, 6.5, 6.5]
USA_i_hi = [12.5, 11.0, 9.0, 9.5, 6.5, 9.0, 11.0, 11.0, 10.5, 10.0, 9.8, 9.7, 9.7, 9.7, 9.7, 9.7, 9.7, 9.7, 9.8, 9.8, 9.8]
USA_pi = [2.0, 4.0, 5.0, 5.0, 5.0, 6.5, 7.0, 7.0, 7.0, 7.0, 7.0, 7.0, 7.0, 7.0, 7.0, 7.0, 7.1, 7.2, 7.3, 7.4, 7.5]
USA_pi_lo = [-1.5, 0.5, 2.0, 2.5, 2.5, 3.5, 3.8, 4.0, 4.2, 4.4, 4.5, 4.6, 4.7, 4.8, 4.9, 5.0, 5.1, 5.2, 5.3, 5.4, 5.5]
USA_pi_hi = [5.0, 6.5, 7.0, 7.0, 7.0, 8.5, 9.0, 9.0, 9.0, 9.0, 9.0, 9.0, 9.0, 9.0, 9.0, 9.0, 9.0, 9.0, 9.0, 9.0, 9.0]

ZAF_i = [18.5, 16.0, 13.0, 10.5, 9.5, 9.0, 8.8, 8.8, 8.8, 8.8, 8.8, 8.8, 8.8, 8.8, 8.8, 8.8, 8.8, 8.8, 8.8, 8.8, 8.8]
ZAF_i_lo = [4.0, 2.5, 2.0, 1.5, 2.0, 3.5, 4.5, 5.2, 5.7, 6.0, 6.2, 6.3, 6.4, 6.5, 6.5, 6.5, 6.5, 6.5, 6.5, 6.5, 6.5]
ZAF_i_hi = [24.0, 22.0, 18.0, 15.0, 13.5, 12.8, 12.5, 12.3, 12.2, 12.1, 12.0, 11.9, 11.8, 11.7, 11.6, 11.5, 11.4, 11.3, 11.2, 11.1, 11.0]
ZAF_pi = [3.0, 5.5, 8.0, 9.5, 9.7, 9.5, 9.2, 9.0, 8.9, 8.8, 8.8, 8.8, 8.8, 8.8, 8.8, 8.8, 8.8, 8.8, 8.8, 8.8, 8.8]
ZAF_pi_lo = [0.0, 3.0, 5.8, 7.5, 7.7, 7.5, 7.3, 7.1, 7.0, 7.0, 7.0, 7.0, 7.0, 7.0, 7.0, 7.0, 7.0, 7.0, 7.0, 7.0, 7.0]
ZAF_pi_hi = [5.0, 7.5, 10.0, 11.3, 11.3, 11.0, 10.8, 10.6, 10.5, 10.5, 10.5, 10.5, 10.5, 10.5, 10.5, 10.5, 10.5, 10.5, 10.5, 10.5, 10.5]

COUNTRIES = ["AUS", "BGR", "BRA", "CAN", "CHE", "CHL", "CRI",
             "CZE", "DEU", "DNK", "EU", "GBR", "GEO", "HKG",
             "HRV", "HUN", "IDN", "IND", "ISL", "ISR", "JOR",
             "JPN", "KOR", "MEX", "NOR", "NZL", "PHL", "POL",
             "PRY", "ROU", "SGP", "SRB", "SWE", "THA", "USA",
             "ZAF"]

# y range, y ticks (units of 1e-3) and whether the axis carries a x10^-3 label
Y_AXIS = {
    "AUS": ((0, 20.3), [0, 10, 20], False),
    "BGR": ((-4.7, 14.1), [0, 5, 10], True),
    "BRA": ((0, 22.3), [0, 10, 20], False),
    "CAN": ((0, 15.0), [0, 5, 10], True),
    "CHE": ((0, 10.2), [0, 5, 10], False),
    "CHL": ((0, 20.6), [0, 10, 20], False),
    "CRI": ((0, 20.5), [0, 10, 20], True),
    "CZE": ((-2.7, 14.5), [0, 5, 10], True),
    "DEU": ((-0.2, 13.4), [0, 5, 10], True),
    "DNK": ((-2.5, 10.0), [0, 5, 10], True),
    "EU": ((-1.3, 10.0), [0, 5, 10], True),
    "GBR": ((5.0, 20.2), [10, 15, 20], False),
    "GEO": ((-10.0, 27.0), [-10, 0, 10, 20], False),
    "HKG": ((0, 14.9), [0, 5, 10], True),
    "HRV": ((-7.0, 20.0), [0, 10, 20], True),
    "HUN": ((0, 21.0), [0, 10, 20], False),
    "IDN": ((0, 29.5), [0, 10, 20], False),
    "IND": ((-2.7, 21.0), [0, 10, 20], True),
    "ISL": ((-8.0, 21.0), [0, 10, 20], True),
    "ISR": ((-1.3, 24.5), [0, 10, 20], False),
    "JOR": ((-1.0, 24.5), [0, 10, 20], False),
    "JPN": ((0, 14.5), [0, 5, 10], False),
    "KOR": ((0, 27.0), [0, 10, 20], False),
    "MEX": ((-13.5, 20.0), [-10, 0, 10, 20], False),
    "NOR": ((0, 14.5), [0, 5, 10], False),
    "NZL": ((-4.0, 14.5), [0, 5, 10], True),
    "PHL": ((0, 20.5), [0, 10, 20], False),
    "POL": ((-3.5, 25.0), [0, 10, 20], False),
    "PRY": ((-3.0, 39.0), [0, 10, 20, 30], False),
    "ROU": ((-8.0, 40.5), [0, 20, 40], False),
    "SGP": ((0, 13.2), [0, 5, 10], False),
    "SRB": ((0, 40.5), [0, 20, 40], False),
    "SWE": ((-1.0, 11.8), [0, 5, 10], True),
    "THA": ((-2.5, 20.0), [0, 10, 20], True),
    "USA": ((-1.5, 12.5), [0, 5, 10], True),
    "ZAF": ((0, 24.0), [0, 10, 20], False),
}

W, H = 1914, 1066
COL_X = [71, 321, 571, 822, 1071, 1321, 1571]
ROW_Y = [38, 220, 401, 584, 765, 947]
AX_W, AX_H = 189, 86

fig = plt.figure(figsize=(W / 100, H / 100), dpi=100)

for k, c in enumerate(COUNTRIES):
    r, col = divmod(k, 7)
    ax = fig.add_axes([COL_X[col] / W, 1 - (ROW_Y[r] + AX_H) / H, AX_W / W, AX_H / H])
    s = {name: np.array(globals()[f"{c}_{name}"]) * 1e-3
         for name in ("i", "i_lo", "i_hi", "pi", "pi_lo", "pi_hi")}

    ax.fill_between(HORIZON, s["i_lo"], s["i_hi"], color=(0, 0, 1), alpha=0.42, lw=0)
    ax.plot(HORIZON, s["i"], color=(0, 0, 1), lw=4)
    ax.fill_between(HORIZON, s["pi_lo"], s["pi_hi"], color=(1, 0, 0), alpha=0.38, lw=0)
    ax.plot(HORIZON, s["pi"], color=(1, 0, 0), lw=5)

    (y0, y1), ticks, sci = Y_AXIS[c]
    ax.set_xlim(0, 20)
    ax.set_ylim(y0 * 1e-3, y1 * 1e-3)
    ax.set_xticks([0, 10, 20])
    ax.set_yticks([t * 1e-3 for t in ticks])
    ax.set_yticklabels([f"{t:g}" if sci else f"{t / 1000:g}" for t in ticks])

    ax.grid(True, color="#dcdcdc", lw=0.9)
    ax.set_axisbelow(True)
    ax.tick_params(direction="in", length=3, width=0.8, labelsize=17,
                   colors="#262626", top=True, right=True)
    ax.tick_params(axis="x", pad=8)
    ax.tick_params(axis="y", pad=3)
    for sp in ax.spines.values():
        sp.set_color("#262626")
        sp.set_linewidth(1.0)

    ax.set_title(c, fontsize=18.5, fontweight="bold", pad=7)
    if sci:
        ax.text(0, 1.04, "×10$^{\\mathregular{-3}}$", transform=ax.transAxes,
                ha="left", va="bottom", fontsize=17, color="#555555")

handles = [Line2D([], [], color="#0072BD", lw=3.5),
           Line2D([], [], color="#D95319", lw=3.5)]
leg = fig.legend(handles, ["$i$", "$\\pi$"], loc="upper left",
                 bbox_to_anchor=(1783 / W, 1 - 500 / H), borderaxespad=0,
                 frameon=True, fancybox=False, edgecolor="black",
                 prop={"size": 24, "math_fontfamily": "cm"},
                 handlelength=2.6, handletextpad=0.35, borderpad=0.35,
                 labelspacing=0.3)
leg.get_frame().set_linewidth(1.0)

fig.savefig("out.png", dpi=100)
